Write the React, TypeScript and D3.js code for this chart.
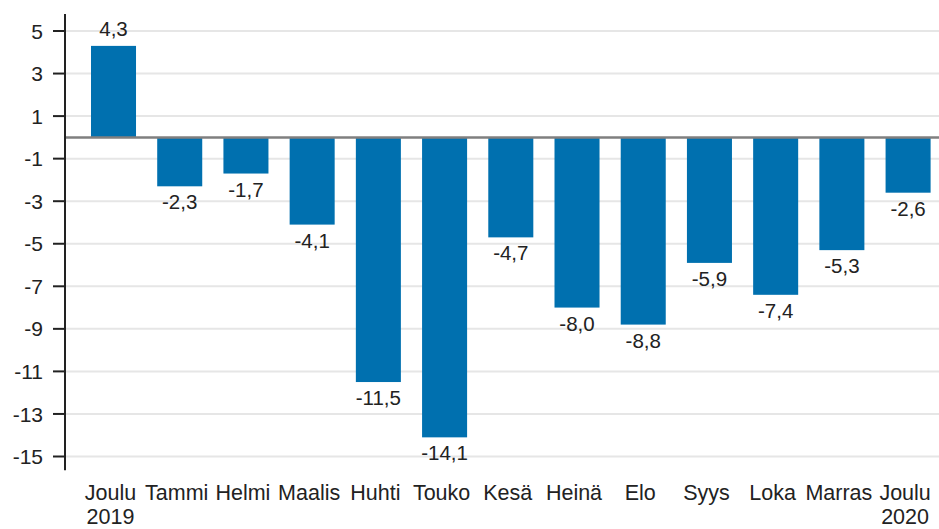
import React, { useEffect, useRef } from "react";
import * as d3 from "d3";

// kuukaudet ja muutosprosentit
const months = ["Joulu|2019", "Tammi", "Helmi", "Maalis", "Huhti", "Touko", "Kesä", "Heinä", "Elo", "Syys", "Loka", "Marras", "Joulu|2020"];
const values = [4.3, -2.3, -1.7, -4.1, -11.5, -14.1, -4.7, -8.0, -8.8, -5.9, -7.4, -5.3, -2.6];
const yTicks = [-15, -13, -11, -9, -7, -5, -3, -1, 1, 3, 5];

const W = 939;
const H = 529;
const FONT = "'Liberation Sans', Arial, sans-serif";
const BAR = "#0070af";

const fmt = (v: number) => v.toFixed(1).replace(".", ",");

const App: React.FC = () => {
	const svgRef = useRef<SVGSVGElement | null>(null);

	useEffect(() => {
		const svg = d3.select(svgRef.current);
		svg.selectAll("*").remove();

		const axisX = 65;
		const y = d3.scaleLinear().domain([-15, 5]).range([456.5, 31]);
		const x = d3
			.scaleBand<number>()
			.domain(d3.range(months.length))
			.range([80.4, 941.2])
			.paddingInner(0.32)
			.paddingOuter(0.16);

		// grid
		svg.append("g")
			.selectAll("line")
			.data(yTicks)
			.enter()
			.append("line")
			.attr("x1", axisX)
			.attr("x2", W)
			.attr("y1", (d) => y(d))
			.attr("y2", (d) => y(d))
			.attr("stroke", "#e6e6e6")
			.attr("stroke-width", 2);

		// bars
		svg.append("g")
			.selectAll("rect")
			.data(values)
			.enter()
			.append("rect")
			.attr("x", (_d, i) => x(i)!)
			.attr("width", x.bandwidth())
			.attr("y", (d) => y(Math.max(0, d)))
			.attr("height", (d) => Math.abs(y(d) - y(0)))
			.attr("fill", BAR);

		// zero line
		svg.append("line")
			.attr("x1", axisX)
			.attr("x2", W)
			.attr("y1", y(0))
			.attr("y2", y(0))
			.attr("stroke", "#7f7f7f")
			.attr("stroke-width", 2.5);

		// y axis
		svg.append("line")
			.attr("x1", axisX)
			.attr("x2", axisX)
			.attr("y1", y(5.8))
			.attr("y2", y(-15.65))
			.attr("stroke", "#222")
			.attr("stroke-width", 2);

		const ticks = svg.append("g");
		ticks.selectAll("line")
			.data(yTicks)
			.enter()
			.append("line")
			.attr("x1", axisX - 12)
			.attr("x2", axisX)
			.attr("y1", (d) => y(d))
			.attr("y2", (d) => y(d))
			.attr("stroke", "#222")
			.attr("stroke-width", 2);
		ticks.selectAll("text")
			.data(yTicks)
			.enter()
			.append("text")
			.attr("x", 43)
			.attr("y", (d) => y(d))
			.attr("dy", "0.36em")
			.attr("text-anchor", "end")
			.style("font-family", FONT)
			.style("font-size", "21px")
			.style("fill", "#222")
			.text((d) => String(d));

		// value labels
		svg.append("g")
			.selectAll("text")
			.data(values)
			.enter()
			.append("text")
			.attr("x", (_d, i) => x(i)! + x.bandwidth() / 2)
			.attr("y", (d) => (d >= 0 ? y(d) - 10 : y(d) + 23))
			.attr("text-anchor", "middle")
			.style("font-family", FONT)
			.style("font-size", "20.5px")
			.style("fill", "#222")
			.text((d) => fmt(d));

		// category labels
		const cats = svg.append("g")
			.selectAll("text")
			.data(months)
			.enter()
			.append("text")
			.attr("text-anchor", "middle")
			.style("font-family", FONT)
			.style("font-size", "21.5px")
			.style("fill", "#222");
		cats.each(function (d, i) {
			const t = d3.select(this);
			const parts = d.split("|");
			const cx = x(i)! + x.bandwidth() / 2 - 3;
			parts.forEach((p, k) => {
				t.append("tspan")
					.attr("x", cx)
					.attr("y", 500 + k * 24)
					.text(p);
			});
		});
	}, []);

	return (
		<svg
			ref={svgRef}
			width={W}
			height={H}
			style={{ position: "absolute", left: 0, top: 0, background: "#fff" }}
		></svg>
	);
};

export default App;
